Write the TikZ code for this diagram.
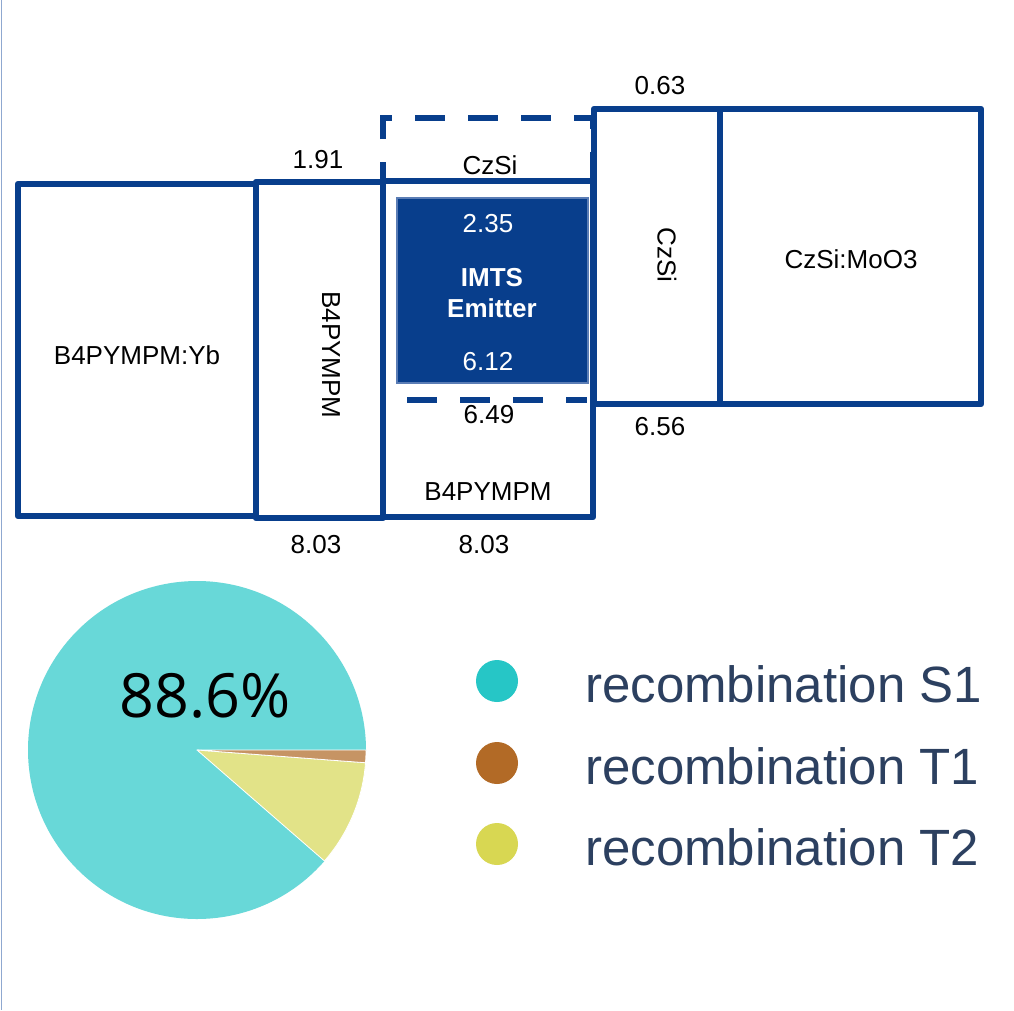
\documentclass[tikz,border=0pt]{standalone}
\usepackage{fontspec}
\setmainfont{Liberation Sans}
\newfontfamily\osans{Open Sans}
\definecolor{eblue}{HTML}{083E8C}
\definecolor{emborder}{HTML}{5B7DB5}
\definecolor{s1pie}{HTML}{68D8D8}
\definecolor{t1pie}{HTML}{C69464}
\definecolor{t2pie}{HTML}{E2E388}
\definecolor{s1dot}{HTML}{26C6C6}
\definecolor{t1dot}{HTML}{B26A26}
\definecolor{t2dot}{HTML}{D8D752}
\definecolor{legtext}{HTML}{2C4060}
\definecolor{leftline}{HTML}{8FA8D0}
\begin{document}
\begin{tikzpicture}[x=1pt,y=-1pt,
  lvl/.style={draw=eblue,line width=6.5pt,line join=round,inner sep=0pt,rectangle},
  lab/.style={font=\fontsize{26}{31}\selectfont,text=black,inner sep=0pt},
  wlab/.style={lab,text=white},
  leg/.style={font=\fontsize{51}{60}\selectfont,text=legtext,inner sep=0pt,anchor=base west},
  dot/.style={circle,inner sep=0pt,minimum size=42pt},
  slice/.style={draw=white,line width=0.8pt,line join=round},
  dashline/.style={eblue,line width=6.5pt,dash pattern=on 30pt off 23pt}]
\useasboundingbox (0,0) rectangle (1014,1010);
\fill[white] (0,0) rectangle (1014,1010);
\coordinate (lt) at (1.5,0);
\coordinate (lb) at (1.5,1010);
\draw[leftline,line width=1.3pt] (lt) -- (lb);

% energy level boxes
\node[lvl,minimum width=238pt,minimum height=332pt] (yb) at (137,350) {};
\node[lvl,minimum width=127pt,minimum height=336pt] (etl) at (319.5,350) {};
\node[lvl,minimum width=210pt,minimum height=336pt] (host) at (488,349) {};
\node[draw=emborder,fill=eblue,line width=1.2pt,inner sep=0pt,minimum width=191pt,minimum height=185pt] (em) at (492.5,290.5) {};
\coordinate (d1) at (383,182);
\coordinate (d2) at (383,118);
\coordinate (d3) at (593,118);
\coordinate (d4) at (593,403);
\coordinate (d5) at (407,400);
\coordinate (d6) at (587,400);
\draw[dashline,dash phase=10pt] (d1) -- (d2) -- (d3) -- (d4);
\draw[dashline] (d5) -- (d6);
\node[lvl,minimum width=126pt,minimum height=295pt] (htl) at (657,256.5) {};
\node[lvl,minimum width=261pt,minimum height=295pt] (hil) at (850.5,256.5) {};

% labels
\node[lab] (l191) at (318,160) {1.91};
\node[lab] (l063) at (660,86) {0.63};
\node[lab] (lczsi) at (490,165) {CzSi};
\node[wlab] (l235) at (488,224) {2.35};
\node[wlab,font=\fontsize{26}{31}\selectfont\bfseries] (limts) at (492,278) {IMTS};
\node[wlab,font=\fontsize{26}{31}\selectfont\bfseries] (lemit) at (492,308) {Emitter};
\node[wlab] (l612) at (488,362) {6.12};
\node[lab] (l649) at (489,415) {6.49};
\node[lab] (lb4h) at (488,492) {B4PYMPM};
\node[lab] (l656) at (660,427) {6.56};
\node[lab] (l803a) at (316,545) {8.03};
\node[lab] (l803b) at (484,545) {8.03};
\node[lab] (lyb) at (137,355) {B4PYMPM:Yb};
\node[lab,rotate=-90] (lb4v) at (331,355) {B4PYMPM};
\node[lab,rotate=-90] (lczv) at (667,255) {CzSi};
\node[lab] (lmoo) at (851,259) {CzSi:MoO3};

% pie chart
\coordinate (pc) at (197,750);
\fill[s1pie] (pc) -- ([shift={(41.04:169)}]pc) arc[start angle=41.04,end angle=360,radius=169] -- cycle;
\filldraw[t2pie,slice] (pc) -- ([shift={(4.32:169)}]pc) arc[start angle=4.32,end angle=41.04,radius=169] -- cycle;
\filldraw[t1pie,slice] (pc) -- ([shift={(0:169)}]pc) arc[start angle=0,end angle=4.32,radius=169] -- cycle;
\node[font=\osans\fontsize{61}{70}\selectfont,inner sep=0pt,text=black] (pct) at (205,696) {88.6\%};

% legend
\node[dot,fill=s1dot] (ds1) at (497,681) {};
\node[dot,fill=t1dot] (dt1) at (497,763) {};
\node[dot,fill=t2dot] (dt2) at (497,844) {};
\node[leg] (ts1) at (585,702) {recombination S1};
\node[leg] (tt1) at (585,784) {recombination T1};
\node[leg] (tt2) at (585,865) {recombination T2};
\end{tikzpicture}
\end{document}
